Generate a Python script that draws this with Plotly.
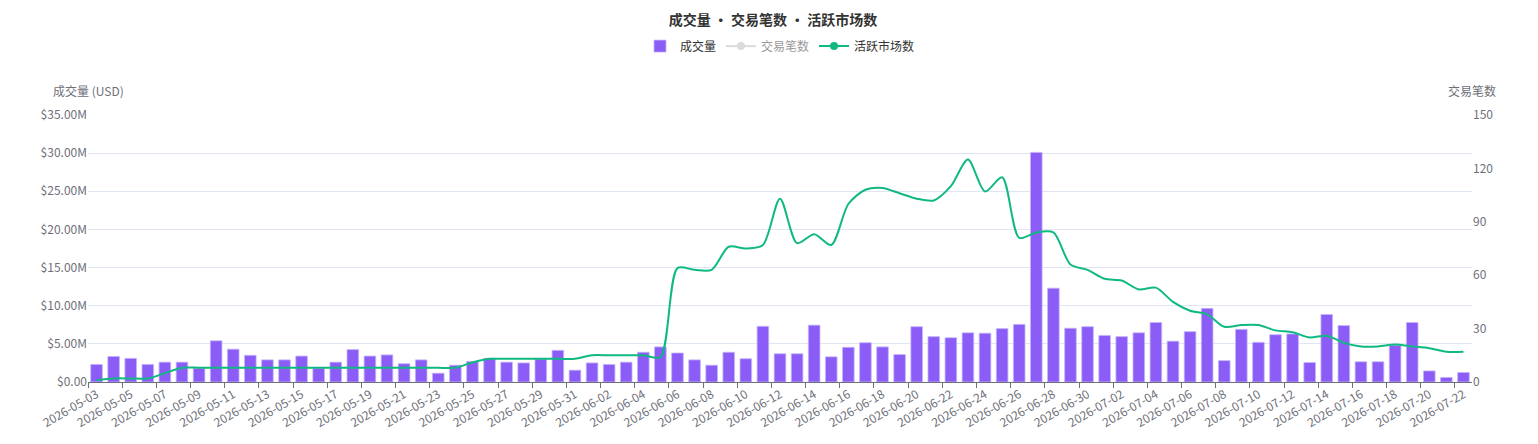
"""Daily volume bars with active-market line (trades series hidden)."""
import pandas as pd
import plotly.graph_objects as go

# Categories: one per day
dates = pd.date_range("2026-05-03", "2026-07-22", freq="D").strftime("%Y-%m-%d").tolist()

# Daily volume, millions of USD
volume_m = [
    2.3, 3.35, 3.1, 2.3, 2.6, 2.6, 1.8, 5.4, 4.3, 3.5,
    2.9, 2.9, 3.4, 1.8, 2.6, 4.25, 3.4, 3.55, 2.4, 2.9,
    1.15, 2.2, 2.7, 3.1, 2.6, 2.5, 3.0, 4.15, 1.55, 2.5,
    2.3, 2.6, 3.9, 4.6, 3.8, 2.9, 2.2, 3.9, 3.05, 7.3,
    3.7, 3.7, 7.45, 3.3, 4.55, 5.15, 4.6, 3.6, 7.25, 5.95,
    5.8, 6.45, 6.4, 7.0, 7.55, 30.1, 12.3, 7.05, 7.25, 6.1,
    5.95, 6.45, 7.8, 5.35, 6.6, 9.65, 2.8, 6.9, 5.2, 6.2,
    6.3, 2.55, 8.85, 7.4, 2.65, 2.65, 4.8, 7.8, 1.45, 0.6,
    1.25,
]

# Active markets per day
active_markets = [
    1, 2, 2, 2, 5, 8, 8, 8, 8, 8,
    8, 8, 8, 8, 8, 8, 8, 8, 8, 8,
    8, 8, 11, 13, 13, 13, 13, 13, 13, 15,
    15, 15, 15, 14, 64, 63, 63, 76, 75, 77,
    103, 78, 83, 77, 100, 108, 109, 106, 103, 102,
    110, 125, 107, 115, 81, 84, 84, 66, 63, 58,
    57, 52, 53, 45, 40, 38, 31, 32, 32, 29,
    28, 25, 26, 22, 20, 20, 21, 20, 19, 17,
    17,
]

# Axis ticks
left_ticks = [0, 5, 10, 15, 20, 25, 30, 35]
left_ticktext = ["$0.00"] + [f"${v:.2f}M" for v in left_ticks[1:]]
right_ticks = [0, 30, 60, 90, 120, 150]

font = "Noto Sans CJK SC, Open Sans, sans-serif"
axis_grey = "#6E7079"
green = "#10B981"

fig = go.Figure()
fig.add_trace(go.Bar(
    x=dates, y=volume_m, name="成交量",
    marker=dict(color="#8B5CF6", line=dict(color="#C4B5FD", width=0.8)),
))
# trades series is switched off in the legend, nothing drawn
fig.add_trace(go.Scatter(
    x=[dates[0]], y=[None], name="交易笔数", mode="lines+markers",
    line=dict(color="#B8B8B8", width=2), marker=dict(size=8, color="#B8B8B8"),
    yaxis="y2", visible="legendonly",
))
# active markets: line only on the plot, line+dot in the legend
fig.add_trace(go.Scatter(
    x=dates, y=active_markets, name="活跃市场数", mode="lines",
    line=dict(color=green, width=2, shape="spline", smoothing=0.8),
    yaxis="y2", showlegend=False, legendgroup="markets",
))
fig.add_trace(go.Scatter(
    x=[dates[0]], y=[None], name="活跃市场数", mode="lines+markers",
    line=dict(color=green, width=2), marker=dict(size=8, color=green),
    yaxis="y2", legendgroup="markets",
))

fig.update_layout(
    width=1530, height=436,
    margin=dict(l=80, r=66, t=107, b=62),
    paper_bgcolor="white", plot_bgcolor="white",
    font=dict(family=font, size=12, color=axis_grey),
    title=dict(text="<b>成交量 • 交易笔数 • 活跃市场数</b>", x=0.5, xanchor="center",
               y=1 - 12 / 436, yanchor="middle",
               font=dict(family=font, size=14, color="#333333")),
    legend=dict(orientation="h", x=0.5, xanchor="center", y=1.258, yanchor="middle",
                font=dict(size=12, color="#333333"), itemwidth=30),
    bargap=0.32,
    showlegend=True,
    xaxis=dict(type="category", categoryorder="array", categoryarray=dates,
               range=[-0.5, len(dates) - 0.5], tickson="boundaries", dtick=2,
               tickangle=-30, showgrid=False, showline=True, linecolor=axis_grey,
               ticks="outside", ticklen=5, tickcolor=axis_grey,
               tickfont=dict(size=12, color=axis_grey)),
    yaxis=dict(range=[0, 35], tickvals=left_ticks, ticktext=left_ticktext,
               showgrid=True, gridcolor="#E0E6F1", zeroline=False, showline=False,
               ticks="", tickfont=dict(size=12, color=axis_grey)),
    yaxis2=dict(range=[0, 150], tickvals=right_ticks, overlaying="y", side="right",
                showgrid=False, zeroline=False, showline=False,
                tickfont=dict(size=12, color=axis_grey)),
    annotations=[
        dict(text="成交量 (USD)", xref="paper", yref="paper", x=0, y=1, xanchor="center",
             yanchor="bottom", yshift=14, showarrow=False,
             font=dict(size=12, color=axis_grey)),
        dict(text="交易笔数", xref="paper", yref="paper", x=1, y=1, xanchor="center",
             yanchor="bottom", yshift=14, showarrow=False,
             font=dict(size=12, color=axis_grey)),
    ],
)

fig.write_html("out.html")
